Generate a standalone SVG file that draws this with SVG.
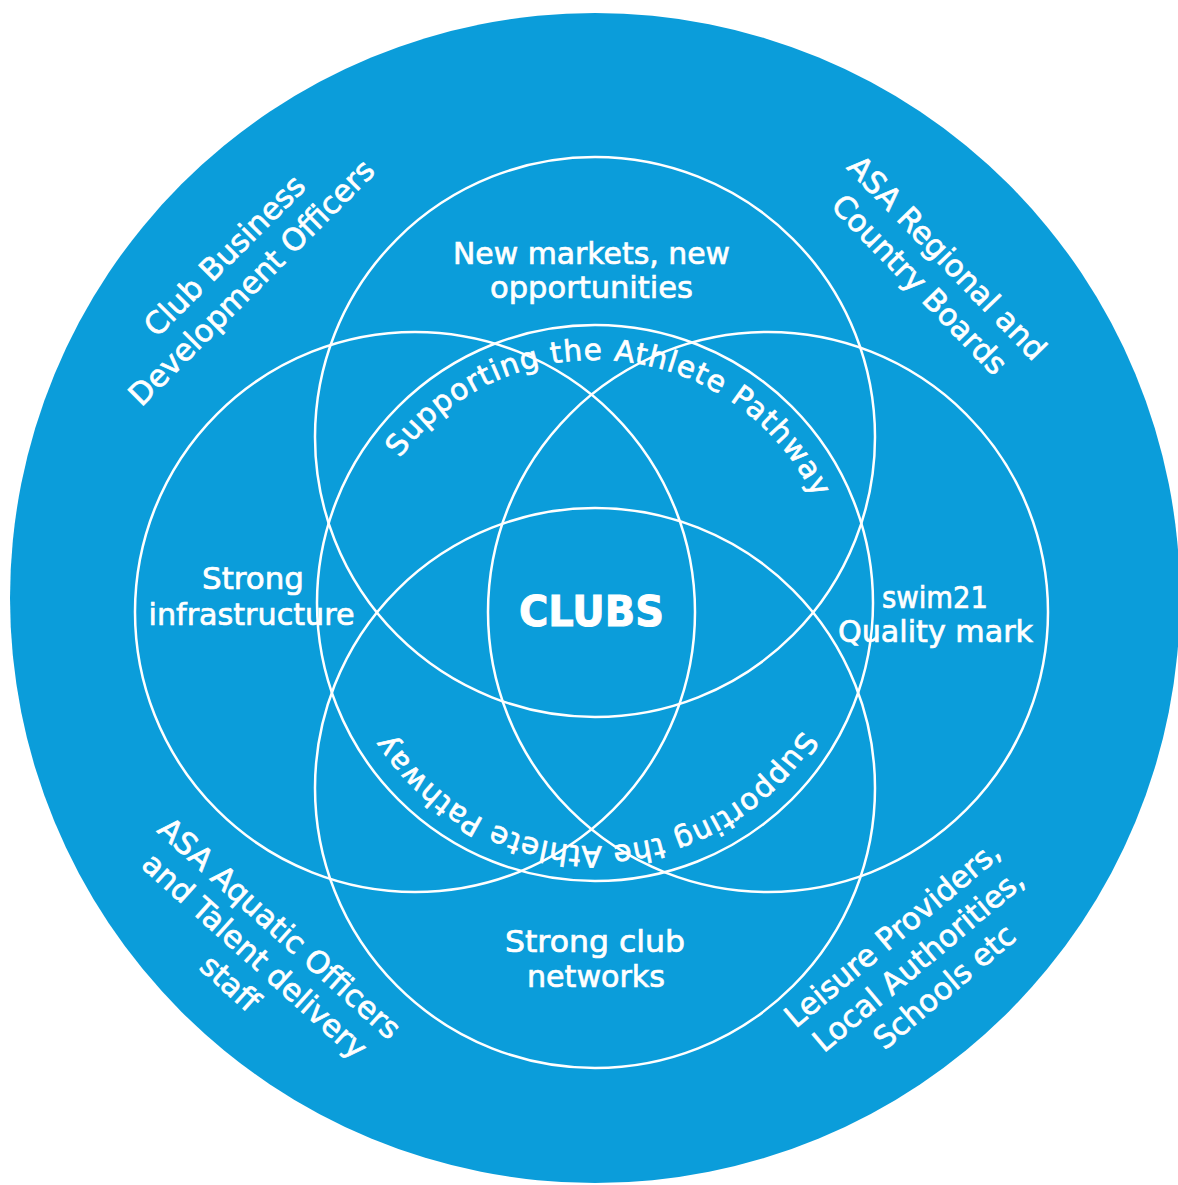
<svg xmlns="http://www.w3.org/2000/svg" xmlns:xlink="http://www.w3.org/1999/xlink" width="1178" height="1185" viewBox="0 0 1178 1185">
  <style>
    .ring { fill: none; stroke: #ffffff; stroke-width: 2.5; }
    .lbl { fill: #ffffff; stroke: #ffffff; stroke-width: 0.7; font-family: "DejaVu Sans", "Liberation Sans", sans-serif; font-size: 30px; text-anchor: middle; }
    .out { font-size: 30.5px; }
    .arc { fill: #ffffff; stroke: #ffffff; stroke-width: 0.7; font-family: "DejaVu Sans", "Liberation Sans", sans-serif; font-size: 29.5px; }
    .core { fill: #ffffff; stroke: #ffffff; stroke-width: 1; font-family: "DejaVu Sans", "Liberation Sans", sans-serif; font-size: 42px; font-weight: bold; text-anchor: middle; }
  </style>
  <defs>
    <path id="pathArc" d="M 352,603 A 243,243 0 1,1 838,603 A 243,243 0 1,1 352,603"/>
  </defs>
  <rect width="1178" height="1185" fill="#ffffff"/>
  <g id="outer-circle">
    <circle cx="595" cy="598" r="585" fill="#0b9dda"/>
  </g>
  <g id="connectors">
    <circle class="ring" cx="595" cy="437" r="280"/>
    <circle class="ring" cx="595" cy="788" r="280"/>
    <circle class="ring" cx="415" cy="612" r="280"/>
    <circle class="ring" cx="768" cy="612" r="280"/>
    <circle class="ring" cx="595" cy="603" r="278"/>
  </g>
  <g id="node-new-markets">
    <text class="lbl" x="591.5" y="264" textLength="277" lengthAdjust="spacingAndGlyphs">New markets, new</text>
    <text class="lbl" x="591.5" y="298" textLength="203" lengthAdjust="spacingAndGlyphs">opportunities</text>
  </g>
  <g id="node-infrastructure">
    <text class="lbl" x="253" y="589" textLength="102" lengthAdjust="spacingAndGlyphs">Strong</text>
    <text class="lbl" x="251.5" y="625" textLength="206" lengthAdjust="spacingAndGlyphs">infrastructure</text>
  </g>
  <g id="node-clubs">
    <text class="core" x="591.5" y="626" textLength="145" lengthAdjust="spacingAndGlyphs">CLUBS</text>
  </g>
  <g id="node-swim21">
    <text class="lbl" x="935" y="608" textLength="106" lengthAdjust="spacingAndGlyphs">swim21</text>
    <text class="lbl" x="935.5" y="642" textLength="195" lengthAdjust="spacingAndGlyphs">Quality mark</text>
  </g>
  <g id="node-club-networks">
    <text class="lbl" x="595" y="952" textLength="180" lengthAdjust="spacingAndGlyphs">Strong club</text>
    <text class="lbl" x="596" y="987" textLength="138" lengthAdjust="spacingAndGlyphs">networks</text>
  </g>
  <g id="node-athlete-pathway">
    <text class="arc"><textPath xlink:href="#pathArc" href="#pathArc" startOffset="154.8" textLength="500" lengthAdjust="spacing">Supporting the Athlete Pathway</textPath></text>
    <text class="arc"><textPath xlink:href="#pathArc" href="#pathArc" startOffset="897" textLength="492" lengthAdjust="spacing">Supporting the Athlete Pathway</textPath></text>
  </g>
  <g id="node-club-business" transform="translate(232,263) rotate(-45)">
    <text class="lbl out" x="0" y="0">Club Business</text>
    <text class="lbl out" x="0" y="38">Development Officers</text>
  </g>
  <g id="node-asa-regional" transform="translate(939.5,265) rotate(46)">
    <text class="lbl out" x="0" y="0">ASA Regional and</text>
    <text class="lbl out" x="0" y="38.5">Country Boards</text>
  </g>
  <g id="node-asa-aquatic" transform="translate(272.5,936) rotate(42)">
    <text class="lbl out" x="0" y="0">ASA Aquatic Officers</text>
    <text class="lbl out" x="0" y="37">and Talent delivery</text>
    <text class="lbl out" x="0" y="74">staff</text>
  </g>
  <g id="node-leisure" transform="translate(899,942) rotate(-40)">
    <text class="lbl out" x="0" y="0">Leisure Providers,</text>
    <text class="lbl out" x="3" y="37">Local Authorities,</text>
    <text class="lbl out" x="6" y="74">Schools etc</text>
  </g>
</svg>
